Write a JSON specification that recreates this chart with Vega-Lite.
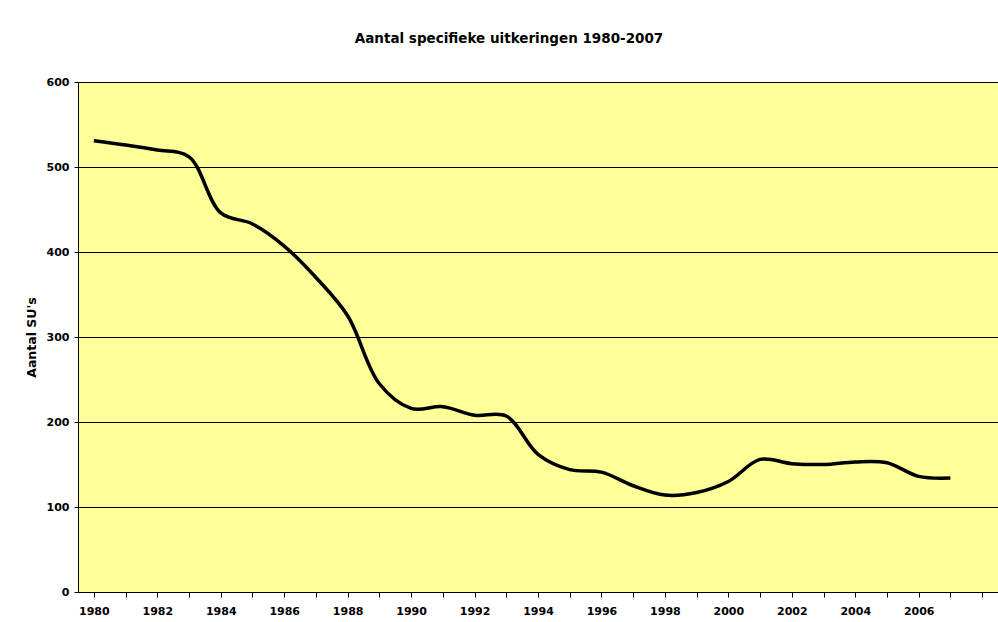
{
  "$schema": "https://vega.github.io/schema/vega-lite/v6.json",
  "autosize": {"type": "none"},
  "padding": {"left": 78, "top": 82, "right": 0, "bottom": 30},
  "width": 920,
  "height": 510,
  "background": "white",
  "title": {
    "text": "Aantal specifieke uitkeringen 1980-2007",
    "font": "DejaVu Sans",
    "fontSize": 13.5,
    "fontWeight": "bold",
    "color": "black",
    "anchor": "middle",
    "dx": -29,
    "offset": 31
  },
  "config": {
    "view": {"fill": "#FFFF99", "stroke": null},
    "axis": {
      "labelFont": "DejaVu Sans",
      "labelFontWeight": "bold",
      "labelFontSize": 11,
      "labelColor": "black",
      "titleFont": "DejaVu Sans",
      "titleFontWeight": "bold",
      "titleFontSize": 12.5,
      "titleColor": "black",
      "domainColor": "black",
      "tickColor": "black"
    }
  },
  "data": {
    "values": [
      {"jaar": 1980, "aantal": 531},
      {"jaar": 1981, "aantal": 526},
      {"jaar": 1982, "aantal": 520},
      {"jaar": 1983, "aantal": 512},
      {"jaar": 1984, "aantal": 446},
      {"jaar": 1985, "aantal": 433},
      {"jaar": 1986, "aantal": 407},
      {"jaar": 1987, "aantal": 370},
      {"jaar": 1988, "aantal": 325},
      {"jaar": 1989, "aantal": 245},
      {"jaar": 1990, "aantal": 216},
      {"jaar": 1991, "aantal": 218},
      {"jaar": 1992, "aantal": 208},
      {"jaar": 1993, "aantal": 207},
      {"jaar": 1994, "aantal": 162},
      {"jaar": 1995, "aantal": 144},
      {"jaar": 1996, "aantal": 141},
      {"jaar": 1997, "aantal": 125},
      {"jaar": 1998, "aantal": 114},
      {"jaar": 1999, "aantal": 117},
      {"jaar": 2000, "aantal": 130},
      {"jaar": 2001, "aantal": 156},
      {"jaar": 2002, "aantal": 151},
      {"jaar": 2003, "aantal": 150},
      {"jaar": 2004, "aantal": 153},
      {"jaar": 2005, "aantal": 152},
      {"jaar": 2006, "aantal": 136},
      {"jaar": 2007, "aantal": 134}
    ]
  },
  "mark": {"type": "line", "color": "black", "strokeWidth": 3.5, "interpolate": "catmull-rom"},
  "encoding": {
    "x": {
      "field": "jaar",
      "type": "ordinal",
      "scale": {
        "domain": [1980,1981,1982,1983,1984,1985,1986,1987,1988,1989,1990,1991,1992,1993,1994,1995,1996,1997,1998,1999,2000,2001,2002,2003,2004,2005,2006,2007,2008],
        "paddingInner": 0,
        "paddingOuter": 0
      },
      "axis": {
        "title": null,
        "bandPosition": 0,
        "labelAngle": 0,
        "labelOverlap": false,
        "labelFlush": false,
        "labelPadding": 8,
        "tickSize": 5,
        "labelExpr": "(datum.value % 2 == 0 && datum.value != 2008) ? datum.value : ''"
      }
    },
    "y": {
      "field": "aantal",
      "type": "quantitative",
      "scale": {"domain": [0, 600], "nice": false},
      "axis": {
        "title": "Aantal SU's",
        "values": [0, 100, 200, 300, 400, 500, 600],
        "grid": true,
        "gridColor": "black",
        "gridOpacity": 1,
        "gridWidth": 1,
        "tickSize": 4,
        "labelPadding": 5,
        "titlePadding": 8
      }
    }
  }
}
